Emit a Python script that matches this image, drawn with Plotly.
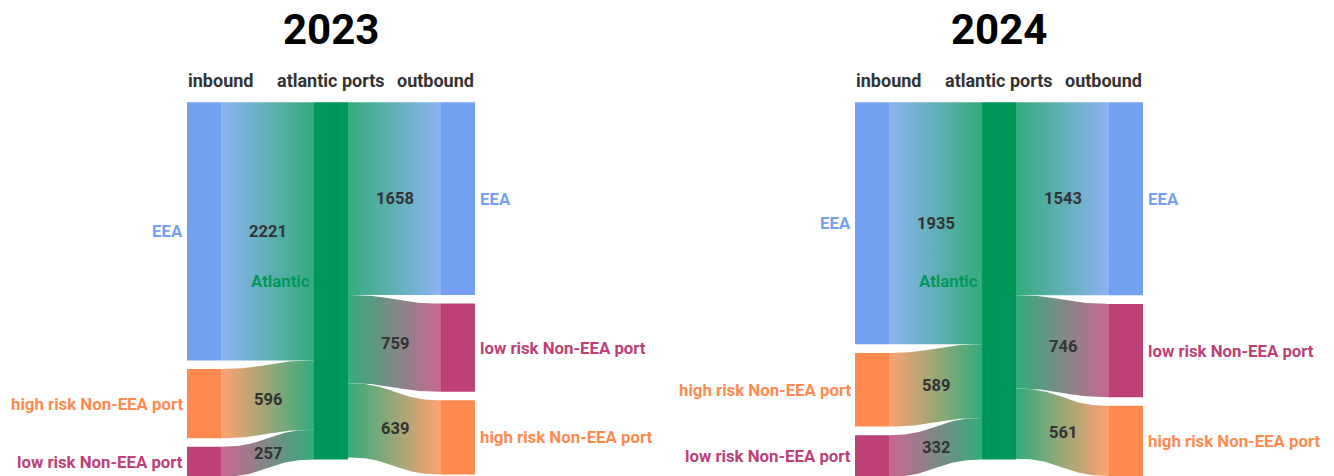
import numpy as np
import plotly.graph_objects as go

# ---- data -------------------------------------------------------------
years = ["2023", "2024"]
inbound_nodes = ["EEA", "high risk Non-EEA port", "low risk Non-EEA port"]
outbound_nodes = ["EEA", "low risk Non-EEA port", "high risk Non-EEA port"]
hub_name = "Atlantic"
column_titles = ["inbound", "atlantic ports", "outbound"]

inbound_2023 = [2221, 596, 257]
outbound_2023 = [1658, 759, 639]
inbound_2024 = [1935, 589, 332]
outbound_2024 = [1543, 746, 561]

node_colors = {
    "EEA": "#73a0f0",
    "high risk Non-EEA port": "#ff8a4f",
    "low risk Non-EEA port": "#bd4077",
    "Atlantic": "#00975b",
}

# ---- layout constants (pixel space) ----------------------------------
W, H = 1334, 476
panel_left = [187, 855]
col_dx = [0, 127, 254]
node_w = 34
top, bottom, gap = 102.3, 476.7, 8.6
link_opacity = 0.8
label_pad = 2.5
font_family = "Roboto, 'Open Sans', sans-serif"

fig = go.Figure()
annotations = []


def rect(x0, x1, y0, y1):
    return [x0, x1, x1, x0, x0], [y0, y0, y1, y1, y0]


def bezier(x0, y0, x1, y1, n=80):
    t = np.linspace(0, 1, n)
    cx = (x0 + x1) / 2
    x = (1 - t) ** 3 * x0 + 3 * (1 - t) ** 2 * t * cx + 3 * (1 - t) * t ** 2 * cx + t ** 3 * x1
    y = (1 - t) ** 3 * y0 + 3 * (1 - t) ** 2 * t * y0 + 3 * (1 - t) * t ** 2 * y1 + t ** 3 * y1
    return x, y


def add_link(x0, s_top, x1, t_top, thick, c0, c1, value):
    tx, ty = bezier(x0, s_top, x1, t_top)
    bx, by = bezier(x0, s_top + thick, x1, t_top + thick)
    xs = np.concatenate([tx, bx[::-1], tx[:1]])
    ys = np.concatenate([ty, by[::-1], ty[:1]])
    fig.add_trace(go.Scatter(
        x=xs, y=ys, mode="lines", fill="toself",
        line=dict(width=0, color="rgba(0,0,0,0)"),
        fillgradient=dict(type="horizontal", start=x0, stop=x1,
                          colorscale=[[0, c0], [1, c1]]),
        opacity=link_opacity, hoverinfo="skip", showlegend=False,
    ))
    annotations.append(dict(
        x=(x0 + x1) / 2, y=(s_top + t_top) / 2 + thick / 2, text=str(value),
        showarrow=False, xanchor="center", yanchor="middle",
        font=dict(family=font_family, size=16.5, color="#333333", weight="bold"),
    ))


def add_node(x0, y0, y1, color):
    xs, ys = rect(x0, x0 + node_w, y0, y1)
    fig.add_trace(go.Scatter(
        x=xs, y=ys, mode="lines", fill="toself", fillcolor=color,
        line=dict(width=0, color="rgba(0,0,0,0)"),
        hoverinfo="skip", showlegend=False,
    ))


def node_label(x, y, text, color, anchor):
    annotations.append(dict(
        x=x, y=y, text=text, showarrow=False, xanchor=anchor, yanchor="middle",
        font=dict(family=font_family, size=16.8, color=color, weight="bold"),
    ))


panels = [(inbound_2023, outbound_2023), (inbound_2024, outbound_2024)]

for year, left, (inb, outb) in zip(years, panel_left, panels):
    max_total = max(sum(inb), sum(outb))
    scale = (bottom - top - gap * (len(inb) - 1)) / max_total
    xin, xhub, xout = (left + d for d in col_dx)

    # inbound column
    y = top
    in_tops = []
    for name, v in zip(inbound_nodes, inb):
        h = v * scale
        in_tops.append(y)
        add_node(xin, y, y + h, node_colors[name])
        node_label(xin - label_pad, y + h / 2, name, node_colors[name], "right")
        y += h + gap

    # outbound column
    y = top
    out_tops = []
    for name, v in zip(outbound_nodes, outb):
        h = v * scale
        out_tops.append(y)
        add_node(xout, y, y + h, node_colors[name])
        node_label(xout + node_w + label_pad, y + h / 2, name, node_colors[name], "left")
        y += h + gap

    # hub node
    hub_h = max_total * scale
    add_node(xhub, top, top + hub_h, node_colors[hub_name])
    node_label(xhub - label_pad, top + hub_h / 2, hub_name, node_colors[hub_name], "right")

    # links into hub
    hy = top
    for name, v, st in zip(inbound_nodes, inb, in_tops):
        add_link(xin + node_w, st, xhub, hy, v * scale,
                 node_colors[name], node_colors[hub_name], v)
        hy += v * scale

    # links out of hub
    hy = top
    for name, v, tt in zip(outbound_nodes, outb, out_tops):
        add_link(xhub + node_w, hy, xout, tt, v * scale,
                 node_colors[hub_name], node_colors[name], v)
        hy += v * scale

    # column headings
    head_font = dict(family=font_family, size=18, color="#333333", weight="bold")
    annotations.append(dict(x=xin - 1, y=80, text=column_titles[0], showarrow=False,
                            xanchor="left", yanchor="middle", font=head_font))
    annotations.append(dict(x=xhub + node_w / 2, y=80, text=column_titles[1], showarrow=False,
                            xanchor="center", yanchor="middle", font=head_font))
    annotations.append(dict(x=xout + node_w + 1, y=80, text=column_titles[2], showarrow=False,
                            xanchor="right", yanchor="middle", font=head_font))

    # panel title
    annotations.append(dict(x=xhub + node_w / 2, y=29, text=year, showarrow=False,
                            xanchor="center", yanchor="middle",
                            font=dict(family=font_family, size=42, color="#000000", weight="bold")))

fig.update_layout(
    width=W, height=H,
    margin=dict(l=0, r=0, t=0, b=0),
    paper_bgcolor="white", plot_bgcolor="white",
    xaxis=dict(range=[0, W], visible=False, fixedrange=True),
    yaxis=dict(range=[H, 0], visible=False, fixedrange=True),
    annotations=annotations,
    showlegend=False,
)

fig.write_html("out.html")
